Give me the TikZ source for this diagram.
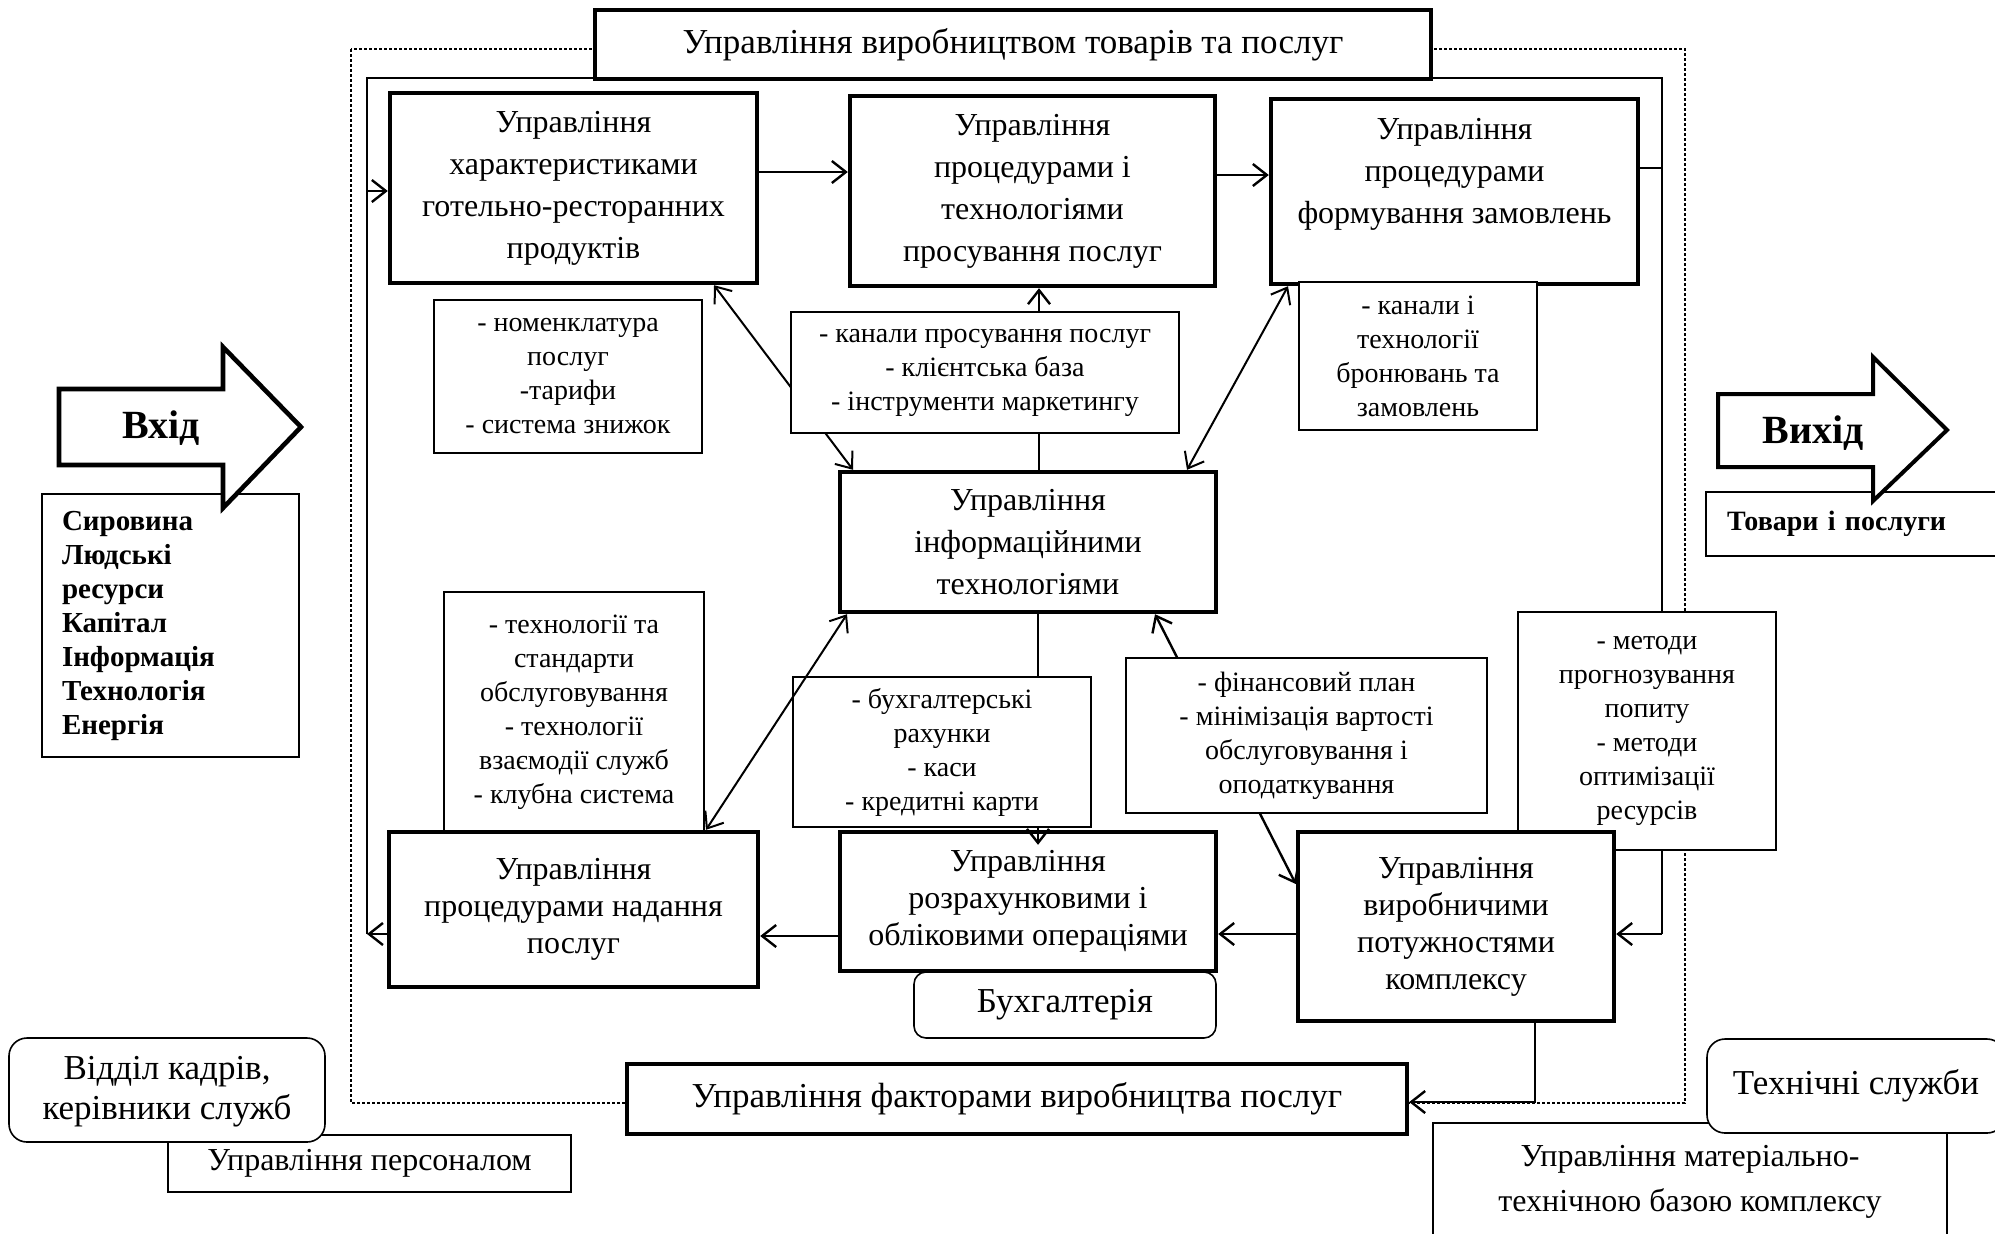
\documentclass[tikz,border=0pt]{standalone}
\usepackage{fontspec}
\setmainfont{Liberation Serif}
\usetikzlibrary{arrows.meta, backgrounds, calc}
\tikzset{wh/.style 2 args={minimum width=#1*0.5pt, minimum height=#2*0.5pt}}

\begin{document}
\begin{tikzpicture}[
  x=0.5pt, y=-0.5pt,
  >={Straight Barb[length=7pt, width=11pt]},
  mainbox/.style={draw, line width=2.2pt, fill=white, align=center, inner sep=0pt, font=\fontsize{16}{21}\selectfont},
  lowbox/.style={mainbox, font=\fontsize{16}{18.5}\selectfont},
  headbox/.style={mainbox, font=\fontsize{17.5}{21}\selectfont},
  notebox/.style={draw, line width=0.7pt, fill=white, align=center, inner sep=0pt, font=\fontsize{14}{17}\selectfont},
  unitbox/.style={draw, line width=0.8pt, rounded corners=9pt, fill=white, align=center, inner sep=0pt, font=\fontsize{17.5}{20}\selectfont},
  plainbox/.style={draw, line width=0.8pt, fill=white, align=center, inner sep=0pt, font=\fontsize{16}{22.5}\selectfont},
  bigarrow/.style={draw, line width=2.3pt, fill=white, line join=miter},
  bigword/.style={font=\bfseries\fontsize{20}{24}\selectfont},
  arrow/.style={->, line width=1.2pt},
  twoway/.style={<->, line width=1pt},
  link/.style={line width=0.9pt},
  frame/.style={line width=0.6pt, dash pattern=on 1.5pt off 1pt}
]
  \useasboundingbox (0,0) rectangle (1995,1233);

  % Loop corners
  \coordinate (ltop) at (367,78);
  \coordinate (rtop) at (1662,78);
  \coordinate (lbot) at (367,934);
  \coordinate (rbot) at (1662,934);
  \coordinate (fturn) at (1535,1102);

  % Input side
  \node[plainbox, wh={257}{263}, text width=108.5pt, align=left, font=\bfseries\fontsize{14.5}{17}\selectfont] (syrov) at (170.5,625.5) {Сировина\\Людські\\ресурси\\Капітал\\Інформація\\Технологія\\Енергія};
  \draw[bigarrow] (59,389) -- (223,389) -- (223,347) -- (301,427) -- (223,508) -- (223,465) -- (59,465) -- cycle;
  \node[bigword] (vhid) at (161,428) {Вхід};

  % Output side
  \node[plainbox, wh={299}{64}, text width=128.5pt, align=left, font=\bfseries\fontsize{14}{17}\selectfont] (tovary) at (1855.5,524) {Товари і послуги};
  \draw[bigarrow, line width=2pt] (1718,394) -- (1873,394) -- (1873,357) -- (1947,430) -- (1873,501) -- (1873,467) -- (1718,467) -- cycle;
  \node[bigword] (vyhid) at (1813,433) {Вихід};

  % Top row
  \node[headbox, wh={836}{69}] (title) at (1013,44.5) {Управління виробництвом товарів та послуг};
  \node[mainbox, wh={367}{190}] (hart) at (573.5,188) {Управління\\характеристиками\\готельно-ресторанних\\продуктів};
  \node[mainbox, wh={365}{190}] (prosuv) at (1032.5,191) {Управління\\процедурами і\\технологіями\\просування послуг};
  \node[mainbox, wh={367}{185}] (formuv) at (1454.5,191.5) {Управління\\процедурами\\формування замовлень\\~};

  % Centre
  \node[mainbox, wh={376}{140}] (infot) at (1028,542) {Управління\\інформаційними\\технологіями};

  % Notes
  \node[notebox, wh={268}{153}] (nomen) at (568,376.5) {- номенклатура\\послуг\\-тарифи\\- система знижок};
  \node[notebox, wh={388}{121}] (kanpr) at (985,372.5) {- канали просування послуг\\- клієнтська база\\- інструменти маркетингу};
  \node[notebox, wh={238}{148}] (kanbr) at (1418,356) {- канали і\\технології\\бронювань та\\замовлень};
  \node[notebox, wh={260}{241}] (tehst) at (574,712.5) {- технології та\\стандарти\\обслуговування\\- технології\\взаємодії служб\\- клубна система};
  \node[notebox, wh={298}{150}] (buhr) at (942,752) {- бухгалтерські\\рахунки\\- каси\\- кредитні карти};
  \node[notebox, wh={361}{155}] (fin) at (1306.5,735.5) {- фінансовий план\\- мінімізація вартості\\обслуговування і\\оподаткування};
  \node[notebox, wh={258}{238}] (metod) at (1647,731) {- методи\\прогнозування\\попиту\\- методи\\оптимізації\\ресурсів};

  % Bottom row
  \node[unitbox, rounded corners=6pt, wh={302}{66}] (buhg) at (1065,1005) {Бухгалтерія};
  \node[lowbox, wh={369}{155}] (nadan) at (573.5,909.5) {Управління\\процедурами надання\\послуг};
  \node[lowbox, wh={376}{139}] (rozr) at (1028,901.5) {Управління\\розрахунковими і\\обліковими операціями};
  \node[lowbox, wh={316}{189}] (vyrob) at (1456,926.5) {Управління\\виробничими\\потужностями\\комплексу};
  \node[headbox, wh={780}{70}] (factor) at (1017,1099) {Управління факторами виробництва послуг};

  % Services
  \node[plainbox, wh={403}{57}] (person) at (369.5,1163.5) {Управління персоналом};
  \node[unitbox, wh={316}{104}, text depth=2pt] (kadry) at (167,1090) {Відділ кадрів,\\керівники служб};
  \node[plainbox, wh={514}{117}] (mater) at (1690,1181.5) {Управління матеріально-\\технічною базою комплексу};
  \node[unitbox, wh={298}{94}] (tehsl) at (1856,1086) {Технічні служби};

  % Frame and loop behind the boxes
  \begin{scope}[on background layer]
    \fill[white] (0,0) rectangle (1995,1233);
    \draw[frame] (351,49) rectangle (1685,1103);
    \draw[link] (lbot) -- (ltop) -- (rtop) -- (rbot);
    \draw[twoway] (hart.south -| 714,0) -- (infot.north -| 853,0);
  \end{scope}

  % Connectors
  \draw[arrow] (hart.east |- 0,172) -- (prosuv.west |- 0,172);
  \draw[arrow] (prosuv.east |- 0,175) -- (formuv.west |- 0,175);
  \draw[link] (formuv.east |- 0,168) -- (rtop |- 0,168);
  \draw[arrow] (ltop |- 0,191) -- (hart.west |- 0,191);
  \draw[arrow] (nadan.west |- lbot) -- (lbot);
  \draw[arrow] (rbot) -- (vyrob.east |- rbot);
  \draw[arrow] (kanpr.north -| 1039,0) -- (prosuv.south -| 1039,0);
  \draw[link] (kanpr.south -| 1039,0) -- (infot.north -| 1039,0);
  \draw[twoway] (formuv.south -| 1288,0) -- (infot.north -| 1187,0);
  \draw[link] (infot.south -| 1038,0) -- (buhr.north -| 1038,0);
  \draw[arrow] (buhr.south -| 1038,0) -- ($(rozr.north -| 1038,0)+(0,15)$);
  \draw[twoway] (nadan.north -| 706,0) -- (infot.south -| 847,0);
  \draw[arrow] (fin.north -| 1177,0) -- (infot.south -| 1155,0);
  \draw[arrow] (fin.south -| 1260,0) -- (vyrob.west |- 0,884);
  \draw[arrow] (vyrob.west |- 0,934) -- (rozr.east |- 0,934);
  \draw[arrow] (rozr.west |- 0,936) -- (nadan.east |- 0,936);
  \draw[arrow] (vyrob.south -| fturn) -- (fturn) -- (factor.east |- fturn);
\end{tikzpicture}
\end{document}
